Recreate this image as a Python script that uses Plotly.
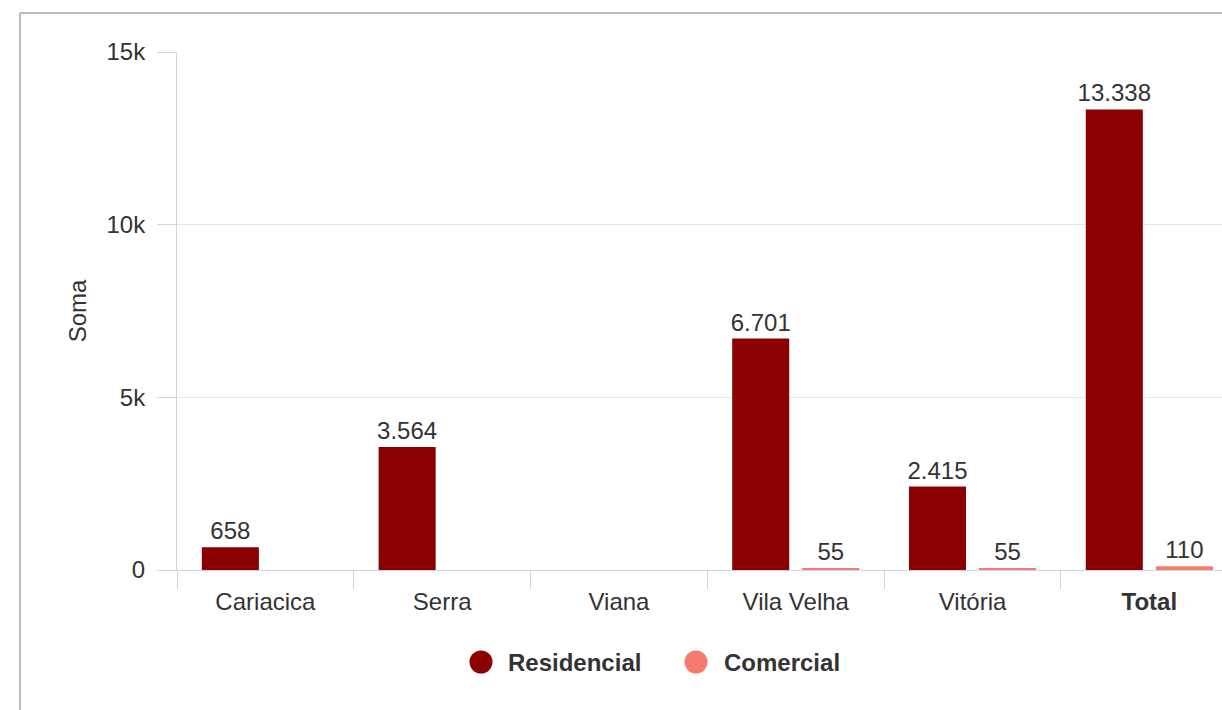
import plotly.graph_objects as go

categories = ["Cariacica", "Serra", "Viana", "Vila Velha", "Vitória", "Total"]
tick_labels = ["Cariacica", "Serra", "Viana", "Vila Velha", "Vitória", "<b>Total</b>"]
residencial = [658, 3564, None, 6701, 2415, 13338]
comercial = [None, None, None, 55, 55, 110]
series_names = ["Residencial", "Comercial"]
y_ticks = [0, 5000, 10000, 15000]
y_tick_labels = ["0", "5k", "10k", "15k"]

RES_COLOR = "#8B0000"
COM_COLOR = "#F47C6C"
TEXT = "#333333"
FONT = "Liberation Sans, Arial, sans-serif"
FS = 24

fig = go.Figure()
for name, vals, col in [(series_names[0], residencial, RES_COLOR),
                        (series_names[1], comercial, COM_COLOR)]:
    fig.add_trace(go.Bar(
        x=categories, y=vals, name=name, marker_color=col,
        marker_line_width=0, texttemplate="%{y:,}", textposition="outside",
        constraintext="none",
        textfont=dict(size=FS, color=TEXT), cliponaxis=False, showlegend=False))

# plot area spans page x 177..1222, y 52..570
PX0, PX1, PY0, PY1 = 177, 1222, 570, 52
def px(x):
    return (x - PX0) / (PX1 - PX0)
def py(y):
    return (PY0 - y) / (PY0 - PY1)

shapes = [
    dict(type="line", xref="paper", yref="paper", x0=px(20), x1=1.0, y0=py(13), y1=py(13),
         line=dict(color="#bbbbbb", width=2)),
    dict(type="line", xref="paper", yref="paper", x0=px(20), x1=px(20), y0=py(712), y1=py(13),
         line=dict(color="#bbbbbb", width=2)),
]
annotations = []
# custom legend with circle symbols
for name, col, cx, tx in [(series_names[0], RES_COLOR, 481, 506),
                          (series_names[1], COM_COLOR, 696, 722)]:
    shapes.append(dict(type="circle", xref="paper", yref="paper",
                       xsizemode="pixel", ysizemode="pixel",
                       xanchor=px(cx), yanchor=py(662), x0=-11.5, x1=11.5, y0=-11.5, y1=11.5,
                       fillcolor=col, line=dict(width=0)))
    annotations.append(dict(xref="paper", yref="paper", x=px(tx), y=py(662),
                            xanchor="left", yanchor="middle", showarrow=False,
                            text=f"<b>{name}</b>", font=dict(size=FS, color=TEXT)))

fig.update_layout(
    width=1222, height=710,
    margin=dict(l=177, r=0, t=52, b=140),
    paper_bgcolor="white", plot_bgcolor="white",
    separators=",.",
    barmode="group", bargap=0.207, bargroupgap=0.186,
    font=dict(family=FONT, size=FS, color=TEXT),
    showlegend=False,
    xaxis=dict(
        type="category", categoryorder="array", categoryarray=categories,
        tickvals=categories, ticktext=tick_labels,
        range=[-0.5, 5.411], tickson="boundaries",
        showline=True, linecolor="#ccd6eb", linewidth=1,
        ticks="outside", ticklen=18, tickcolor="#ccd6eb",
        tickfont=dict(size=FS, color=TEXT), ticklabelstandoff=10,
        showgrid=False, fixedrange=True),
    yaxis=dict(
        range=[0, 15000], tickvals=y_ticks, ticktext=y_tick_labels,
        showgrid=True, gridcolor="#e6e6e6", zeroline=False,
        showline=True, linecolor="#ccd6eb", linewidth=1,
        ticks="outside", ticklen=19, tickcolor="#ccd6eb",
        tickfont=dict(size=FS, color=TEXT), ticklabelstandoff=7,
        title=dict(text="Soma", font=dict(size=FS, color=TEXT), standoff=13)),
    shapes=shapes,
    annotations=annotations,
)

fig.write_html("out.html", config={"displayModeBar": False},
               post_script="document.body.style.margin='0';document.body.style.overflow='hidden';")
